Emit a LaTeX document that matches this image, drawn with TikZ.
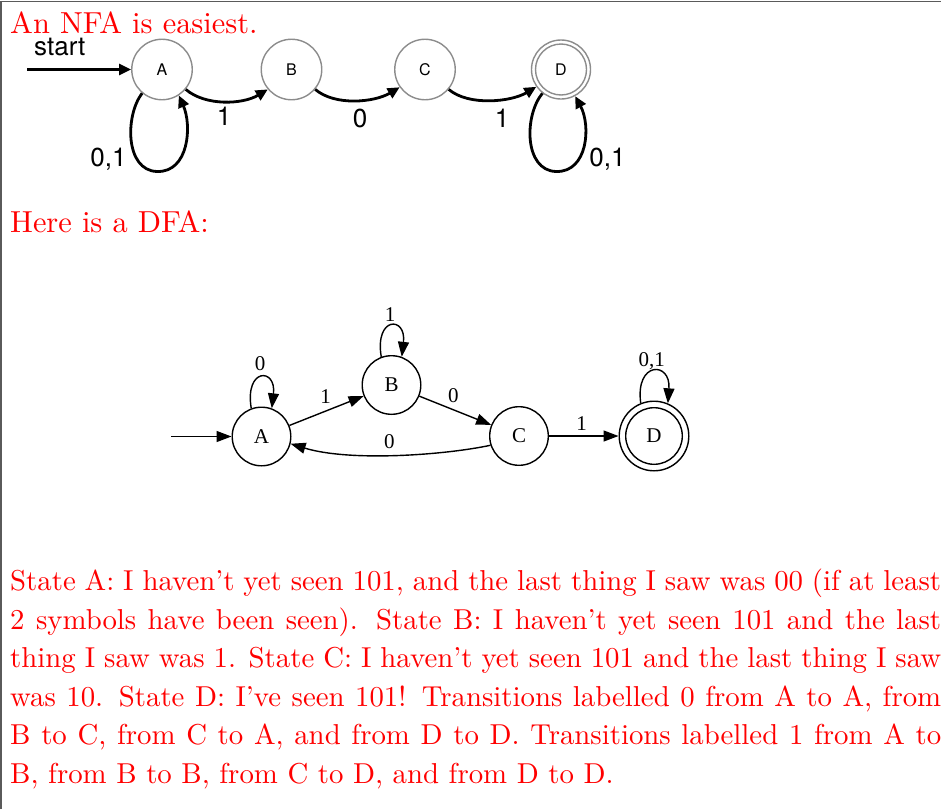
\documentclass[tikz,border=0pt]{standalone}
\usepackage{fontspec}
\setmainfont{lmroman10-regular.otf}
\newfontfamily\nfafont{TeX Gyre Heros}
\newfontfamily\dfafont{Liberation Serif}
\usetikzlibrary{arrows.meta,calc}
\definecolor{nfagray}{RGB}{140,140,140}
\definecolor{framegray}{RGB}{90,90,90}

\begin{document}
\begin{tikzpicture}[x=1pt,y=-1pt,
  nfastate/.style={circle, draw=nfagray, line width=1.4pt, minimum size=60.5pt,
    inner sep=0pt, font=\nfafont\fontsize{16}{18}\selectfont},
  nfaedge/.style={line width=2.8pt, -{Triangle[length=12pt,width=11pt]}},
  nfalabel/.style={font=\nfafont\fontsize{26}{30}\selectfont, inner sep=0pt},
  dfastate/.style={circle, draw, line width=1.4pt, minimum size=58.6pt,
    inner sep=0pt, font=\dfafont\fontsize{21}{24}\selectfont},
  dfaedge/.style={line width=1.4pt, -{Triangle[length=15pt,width=11pt]}},
  dfalabel/.style={font=\dfafont\fontsize{21}{24}\selectfont, inner sep=0pt},
  heading/.style={text=red, inner sep=0pt, anchor=base west,
    font=\fontsize{30.4}{36}\selectfont}
]
\useasboundingbox (0,0) rectangle (941,809);

% page frame (left and top rules)
\draw[framegray, line width=1.3pt] (1,809) -- (1,1.2) -- (941,1.2);

% ---------- NFA ----------
\node[heading] (nfatitle) at (10,33) {An NFA is easiest.};

\node[nfastate] (nA) at (162,69.5) {A};
\node[nfastate] (nB) at (291.5,69.5) {B};
\node[nfastate] (nC) at (425,69.5) {C};
\node[nfastate, minimum size=59pt] (nD) at (561,69.5) {D};
\draw[nfagray, line width=1.4pt] (nD.center) circle[radius=25.5];

\coordinate (nS) at (27,69.5);
\node[nfalabel, anchor=base west] (nstart) at (34,55) {start};
\draw[nfaedge] (nS) -- (nA);

\draw[nfaedge] (nA.-40) .. controls +(20,17) and +(-25,15) .. (nB.-140);
\draw[nfaedge] (nB.-40) .. controls +(20,17) and +(-25,15) .. (nC.-145);
\draw[nfaedge] (nC.-40) .. controls +(20,17) and +(-25,15) .. (nD.-145);

\draw[nfaedge] (nA.-130) .. controls ($(nA)+(-37,46)$) and ($(nA)+(-37,101)$)
  .. ($(nA)+(-5,102)$) .. controls ($(nA)+(27,103)$) and ($(nA)+(30,56)$) .. (nA.-57);
\draw[nfaedge] (nD.-128) .. controls ($(nD)+(-37,46)$) and ($(nD)+(-37,101)$)
  .. ($(nD)+(-5,102)$) .. controls ($(nD)+(27,103)$) and ($(nD)+(30,56)$) .. (nD.-62);

\node[nfalabel] (nlAB) at (224,116) {1};
\node[nfalabel] (nlBC) at (360,118) {0};
\node[nfalabel] (nlCD) at (502,118) {1};
\node[nfalabel, anchor=base] (nlAA) at (108.5,166.5) {0,1};
\node[nfalabel, anchor=base] (nlDD) at (607.5,166.5) {0,1};

% ---------- DFA ----------
\node[heading] (dfatitle) at (10,232.5) {Here is a DFA:};

\node[dfastate] (dA) at (261.5,436.5) {A};
\node[dfastate] (dB) at (391.5,385) {B};
\node[dfastate] (dC) at (519,436) {C};
\node[dfastate, minimum size=69.6pt] (dD) at (654,436) {D};
\draw[line width=1.4pt] (dD.center) circle[radius=28.3];

\coordinate (dS) at (171,436.5);
\draw[dfaedge] (dS) -- (dA);
\draw[dfaedge] (dA) -- (dB);
\draw[dfaedge] (dB) -- (dC);
\draw[dfaedge] (dC) -- (dD);
\draw[dfaedge] (dC.198) .. controls (445,455) and (350,462) .. (dA.-14);

\draw[dfaedge] (dA.110) .. controls ($(dA)+(-17,-69)$) and ($(dA)+(15,-69)$) .. (dA.70);
\draw[dfaedge] (dB.110) .. controls ($(dB)+(-17,-69)$) and ($(dB)+(15,-69)$) .. (dB.70);
\draw[dfaedge] (dD.112) .. controls ($(dD)+(-19,-75)$) and ($(dD)+(17,-75)$) .. (dD.67);

\node[dfalabel] (dlAA) at (260,363.7) {0};
\node[dfalabel] (dlBB) at (390,314.4) {1};
\node[dfalabel, anchor=base] (dlDD) at (651.7,366) {0,1};
\node[dfalabel] (dlAB) at (325.7,396.5) {1};
\node[dfalabel] (dlBC) at (453.3,395.3) {0};
\node[dfalabel] (dlCD) at (581.7,423.7) {1};
\node[dfalabel] (dlCA) at (389.3,441.7) {0};

% ---------- explanation ----------
\node[text=red, inner sep=0pt, anchor=base west, text width=931pt, align=justify,
  font=\fontsize{28.8}{38.6}\selectfont] (expl) at (10,590.5)
  {\hyphenpenalty=10000\exhyphenpenalty=10000
  State A: I haven't yet seen 101, and the last thing I saw was 00 (if at least\linebreak
  2 symbols have been seen).  State B: I haven't yet seen 101 and the last\linebreak
  thing I saw was 1. State C: I haven't yet seen 101 and the last thing I saw\linebreak
  was 10.  State D: I've seen 101!  Transitions labelled 0 from A to A, from\linebreak
  B to C, from C to A, and from D to D. Transitions labelled 1 from A to\linebreak
  B, from B to B, from C to D, and from D to D.};
\end{tikzpicture}
\end{document}
